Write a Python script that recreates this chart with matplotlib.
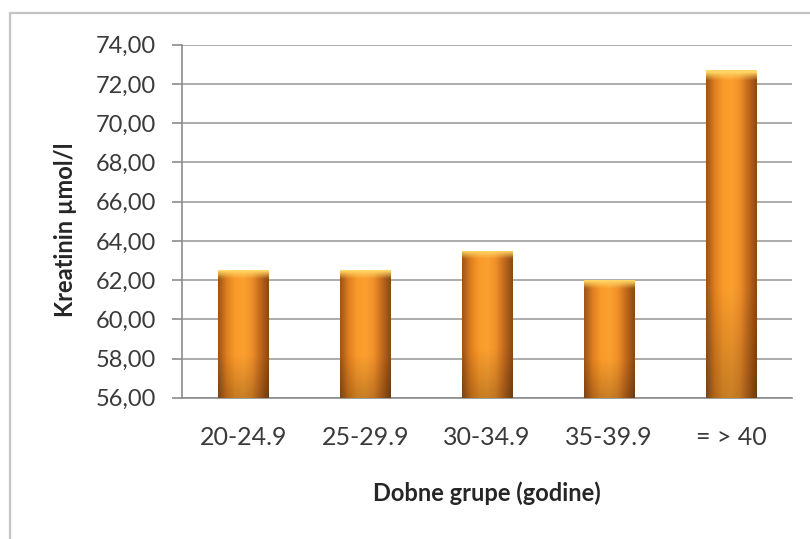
import matplotlib.pyplot as plt
import numpy as np
from matplotlib.colors import LinearSegmentedColormap
from matplotlib.patches import Rectangle

plt.rcParams['font.family'] = ['Lato', 'DejaVu Sans']

# data
age_groups = ['20-24.9', '25-29.9', '30-34.9', '35-39.9', '= > 40']
creatinine = [62.5, 62.5, 63.5, 62.0, 72.7]
y_ticks = np.arange(56, 75, 2)

fig = plt.figure(figsize=(8.1, 5.39), dpi=100)
ax = fig.add_axes([0.225, 0.262, 0.753, 0.655])

# light frame around the whole chart
fig.patches.append(Rectangle((10 / 810, -0.01), 1.0, 1 - 13 / 539 + 0.01,
                             transform=fig.transFigure, fill=False,
                             edgecolor='#c4c4c4', linewidth=1.6))

x = np.arange(len(age_groups))
bars = ax.bar(x, [v - 56 for v in creatinine], 0.41, bottom=56,
              color='#f39325', edgecolor='none', zorder=3)

# shaded look of the bars: dark sides, bright middle, light top
side = LinearSegmentedColormap.from_list(
    'side', ['#9c5518', '#e07f1e', '#f99a2a', '#fba030', '#f0902a', '#c26a1c', '#8a4a14'])
cols = side(np.linspace(0, 1, 60))[:, :3]
rows = np.linspace(0, 1, 80)
for b in bars:
    x0, y0 = b.get_x(), b.get_y()
    w, h = b.get_width(), b.get_height()
    img = np.repeat(cols[None, :, :], len(rows), axis=0)
    # bottom darker, top gets a yellow rim
    shade = 0.8 + 0.2 * np.clip(rows * 3, 0, 1)
    img = img * shade[:, None, None]
    top_px = 0.4 / h
    rim = np.clip(1 - (1 - rows) / top_px, 0, 1)
    img = img * (1 - rim[:, None, None]) + np.array([1.0, 0.84, 0.4]) * rim[:, None, None]
    im = ax.imshow(img, extent=[x0, x0 + w, y0, y0 + h], origin='lower',
                   aspect='auto', zorder=4, interpolation='bilinear')
    im.set_clip_path(b)

ax.set_xlim(-0.5, len(age_groups) - 0.5)
ax.set_ylim(56, 74)
ax.set_yticks(y_ticks)
ax.set_yticklabels(['%d,00' % t for t in y_ticks], fontsize=17, color='#3a3a3a')
ax.set_xticks(x)
ax.set_xticklabels(age_groups, fontsize=18, color='#3a3a3a')
ax.tick_params(axis='x', length=0, pad=20)
ax.tick_params(axis='y', length=7, width=1.2, color='#8c8c8c', pad=12)

ax.grid(axis='y', color='#a6a6a6', linewidth=1.3, zorder=0)
for s in ['top', 'right']:
    ax.spines[s].set_visible(False)
for s in ['left', 'bottom']:
    ax.spines[s].set_color('#8c8c8c')
    ax.spines[s].set_linewidth(1.2)

ax.set_ylabel('Kreatinin µmol/l', fontsize=17, fontweight='bold', color='#262626')
ax.set_xlabel('Dobne grupe (godine)', fontsize=17, fontweight='bold', color='#262626')
ax.yaxis.set_label_coords(-0.172, 0.476)
ax.xaxis.set_label_coords(0.5, -0.237)

fig.savefig('out.png', dpi=100)
